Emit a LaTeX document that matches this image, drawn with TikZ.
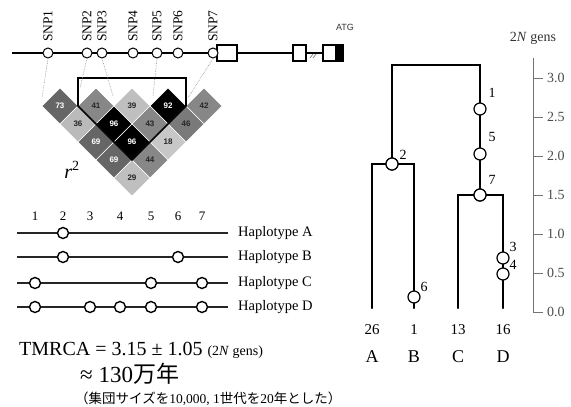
\documentclass[tikz,border=0pt]{standalone}
\usepackage{fontspec}
\setmainfont{Liberation Serif}
\newfontfamily\cjk{Noto Sans CJK JP}
\newfontfamily\hsans{Liberation Sans}
\begin{document}
\begin{tikzpicture}[x=1pt,y=-1pt,
  snp/.style={circle,draw,fill=white,inner sep=0pt,minimum size=10pt,line width=1pt},
  hapc/.style={circle,draw,fill=white,inner sep=0pt,minimum size=11pt,line width=1.4pt},
  tnode/.style={circle,draw,fill=white,inner sep=0pt,minimum size=12pt,line width=1.2pt},
  snplab/.style={rotate=90,anchor=west,inner sep=0pt,font=\fontsize{13.5}{13.5}\selectfont},
  cellnum/.style={font=\hsans\bfseries\fontsize{8}{8}\selectfont,inner sep=0pt},
  hapline/.style={line width=1.8pt,black!85},
  haplab/.style={anchor=west,inner sep=0pt,font=\fontsize{14.5}{15}\selectfont},
  hapnum/.style={inner sep=0pt,font=\fontsize{13}{13}\selectfont},
  branch/.style={line width=2.4pt,line cap=round},
  tlab/.style={inner sep=0pt,font=\fontsize{14}{14}\selectfont},
  axis/.style={black!55,line width=1pt},
  axlab/.style={anchor=west,inner sep=0pt,black!70,font=\fontsize{14}{14}\selectfont},
  ldline/.style={black!45,densely dotted,line width=0.6pt}]
\useasboundingbox (0,0) rectangle (571,407);
% gene structure
\draw[line width=2pt] (12,53) -- (323,53);
\node[draw,line width=1.2pt,fill=white,minimum width=20pt,minimum height=16pt,inner sep=0pt] (ex1) at (227,53) {};
\node[draw,line width=1.2pt,fill=white,minimum width=13pt,minimum height=16pt,inner sep=0pt] (ex2) at (299.5,53) {};
\node[draw,line width=1.2pt,fill=white,minimum width=20pt,minimum height=16pt,inner sep=0pt] (ex3) at (333,53) {};
\fill (335,45.6) rectangle (342.4,60.4);
\draw[black!50,line width=0.7pt] (310,58) -- (313,54) (313,58) -- (316,54);
\node[font=\hsans\fontsize{9}{9}\selectfont,text=black!80] (atg) at (345,27) {ATG};
\foreach \n/\x in {1/48,2/87,3/102,4/133,5/157,6/178,7/213}{
  \node[snp] (s\n) at (\x,53) {};
  \node[snplab] (l\n) at (\x,42) {SNP\n};
}
% LD heatmap
\foreach \x/\y/\g/\t/\v in {60/106/black!60/white/73, 96/106/black!47/black!85/41, 132/106/black!25/black!85/39, 168/106/black/white/92, 204/106/black!47/black!85/42,
  78/124/black!27/black!85/36, 114/124/black/white/96, 150/124/black!47/black!85/43, 186/124/black!52/black!85/46,
  96/142/black!60/white/69, 132/142/black/white/96, 168/142/black!22/black!85/18,
  114/160/black!60/white/69, 150/160/black!47/black!85/44,
  132/178/black!25/black!85/29}{
  \fill[\g,draw=white,line width=0.5pt] (\x-18,\y) -- (\x,\y-18) -- (\x+18,\y) -- (\x,\y+18) -- cycle;
  \node[cellnum,text=\t] (c\x-\y) at (\x,\y) {\v};
}
\draw[line width=1.6pt,line join=miter] (78,106) -- (78,78) -- (186,78) -- (186,106) -- (132,160) -- cycle;
\coordinate (d1) at (42,98);
\coordinate (d2) at (80,88);
\coordinate (d3) at (113,96);
\coordinate (d5) at (153,96);
\coordinate (d7) at (188,98);
\foreach \n in {1,2,3,5,7}{\draw[ldline] (s\n.south) -- (d\n);}
\node[inner sep=0pt,font=\fontsize{20}{20}\selectfont] (r2) at (72,170) {\textit{r}\textsuperscript{2}};
% haplotypes
\foreach \n/\x in {1/35,2/63,3/90,4/120,5/151,6/178,7/202}{
  \node[hapnum] (h\n) at (\x,216) {\n};
}
\foreach \h/\y in {A/233,B/257,C/283,D/307}{
  \coordinate (hs\h) at (17,\y);
  \coordinate (he\h) at (228,\y);
  \draw[hapline] (hs\h) -- (he\h);
  \node[haplab] (hl\h) at (238,\y) {Haplotype \h};
}
\node[hapc] at (63,233) {};
\node[hapc] at (63,257) {};
\node[hapc] at (178,257) {};
\foreach \x in {35,151,202}{\node[hapc] at (\x,283) {};}
\foreach \x in {35,90,120,151,202}{\node[hapc] at (\x,307) {};}
% TMRCA text
\node[anchor=base west,inner sep=0pt,font=\fontsize{20}{20}\selectfont] (tm) at (19,355) {TMRCA = 3.15 ± 1.05 {\fontsize{14}{14}\selectfont (2\textit{N} gens)}};
\node[anchor=base west,inner sep=0pt,font=\fontsize{23}{23}\selectfont] (yr) at (80,382) {≈ 130{\cjk 万年}};
\node[anchor=base west,inner sep=0pt,font=\fontsize{13.5}{14}\selectfont] (nt) at (75,403) {{\cjk （集団サイズを}10,000, 1{\cjk 世代を}20{\cjk 年とした）}};
% tree
\coordinate (top1) at (392,65);
\coordinate (top2) at (480,65);
\node[tnode] (n2) at (392,164) {};
\node[tnode] (n7) at (480,195) {};
\coordinate (bl) at (372,164);
\coordinate (br) at (414,164);
\coordinate (cl) at (458,195);
\coordinate (cr) at (503,195);
\coordinate (lA) at (372,308);
\coordinate (lB) at (414,308);
\coordinate (lC) at (458,308);
\coordinate (lD) at (503,308);
\draw[branch] (n2) -- (top1) -- (top2) -- (n7);
\draw[branch] (lA) -- (bl) -- (br) -- (lB);
\draw[branch] (lC) -- (cl) -- (cr) -- (lD);
\node[tnode] (n2) at (392,164) {};
\node[tnode] (n7) at (480,195) {};
\node[tnode] (m1) at (480,109) {};
\node[tnode] (m5) at (480,154) {};
\node[tnode] (m6) at (414,297) {};
\node[tnode] (m3) at (503,258) {};
\node[tnode] (m4) at (503,274) {};
\node[tlab] at (492,93) {1};
\node[tlab] at (492,137) {5};
\node[tlab] at (492,180) {7};
\node[tlab] at (403,155) {2};
\node[tlab] at (424,287) {6};
\node[tlab] at (513,247) {3};
\node[tlab] at (513,265) {4};
\foreach \c/\x/\k in {A/372/26,B/414/1,C/458/13,D/503/16}{
  \node[inner sep=0pt,font=\fontsize{15}{15}\selectfont] (k\c) at (\x,330) {\k};
  \node[inner sep=0pt,font=\fontsize{18}{18}\selectfont] (t\c) at (\x,357) {\c};
}
% axis
\coordinate (ax0) at (533,312);
\coordinate (ax1) at (533,58);
\draw[axis] (ax1) -- (ax0);
\foreach \t in {0.0,0.5,1.0,1.5,2.0,2.5,3.0}{
  \draw[axis] (533,312-78*\t) -- (543,312-78*\t);
  \node[axlab] at (547,312-78*\t) {\t};
}
\node[inner sep=0pt,font=\fontsize{14}{14}\selectfont,black!80] (axt) at (533,38) {2\textit{N} gens};
\end{tikzpicture}
\end{document}
